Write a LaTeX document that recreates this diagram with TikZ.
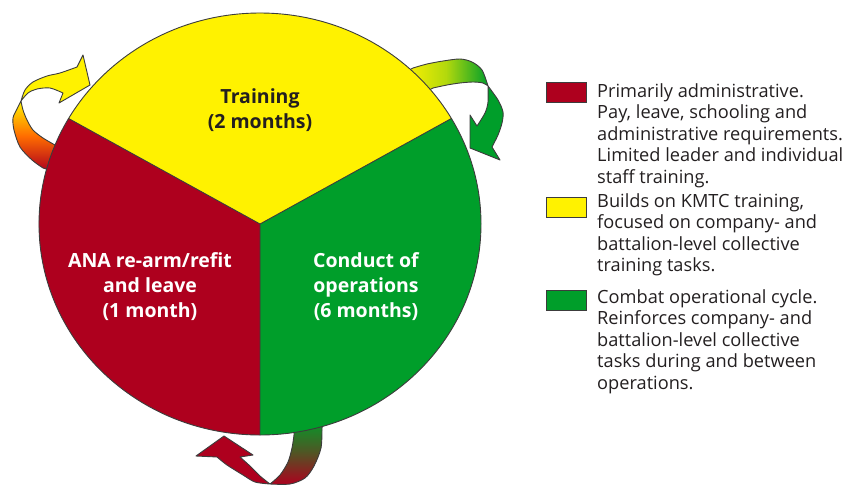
\documentclass[tikz,border=0pt]{standalone}
\usepackage{fontspec}
\setmainfont{Open Sans}
\definecolor{cred}{RGB}{174,0,30}
\definecolor{cyel}{RGB}{255,242,0}
\definecolor{cgrn}{RGB}{0,158,42}
\definecolor{cline}{RGB}{60,60,60}
\definecolor{ctext}{RGB}{35,31,32}
\begin{document}
\begin{tikzpicture}[x=1pt,y=-1pt,
  outl/.style={draw=cline, line width=0.9pt, line join=round},
  sector/.style={line width=0.9pt, draw=cline, line join=round},
  lab/.style={align=center, inner sep=0pt, font=\bfseries\fontsize{19.5}{25}\selectfont},
  legbox/.style={draw=cline, line width=0.8pt, minimum width=40pt, minimum height=20pt, inner sep=0pt},
  legtext/.style={align=left, inner sep=0pt, anchor=north west, text=ctext, font=\fontsize{18.2}{21.5}\selectfont}]
\useasboundingbox (0,0) rectangle (850,485);

% ---------- arrow 1 (red -> yellow, upper left)
\coordinate (t1) at (21,101);
\shade[bottom color=cred, top color=cyel, middle color=orange!85!red]
  (52,171) -- plot[smooth] coordinates {(43,168) (32,160) (20,147) (14,130) (13,118) (17,109) (t1)}
  -- plot[smooth] coordinates {(t1) (23,110) (27,120) (33,130) (43,138) (55,145)} -- (62,150) -- cycle;
\fill[cyel] (t1) -- plot[smooth] coordinates {(t1) (25,90) (33,82) (47,76) (60,73) (77,67)}
  -- (83,55) -- (90,85) -- (59,103) -- (63,93)
  -- plot[smooth] coordinates {(63,93) (50,88) (37,89) (28,93) (t1)} -- cycle;
\draw[outl] (52,171) -- plot[smooth] coordinates {(43,168) (32,160) (20,147) (14,130) (13,118) (17,109) (t1)}
  -- plot[smooth] coordinates {(t1) (25,90) (33,82) (47,76) (60,73) (77,67)}
  -- (83,55) -- (90,85) -- (59,103) -- (63,93)
  -- plot[smooth] coordinates {(63,93) (50,88) (37,89) (28,93) (t1)}
  -- plot[smooth] coordinates {(t1) (23,110) (27,120) (33,130) (43,138) (55,145)} -- (62,150);

% ---------- arrow 2 (yellow -> green, upper right)
\coordinate (t2) at (488,86);
\shade[left color=cyel, right color=cgrn, middle color=cyel!70!cgrn]
  (404,73) -- plot[smooth] coordinates {(413,68) (427,64) (443,61) (460,59) (472,62) (482,70) (t2)}
  -- plot[smooth] coordinates {(t2) (483,83) (473,82) (460,83) (447,85) (433,88)} -- (424,93) -- cycle;
\fill[cgrn] (t2) -- plot[smooth] coordinates {(t2) (498,100) (503,112) (502,123) (498,135) (492,147)}
  -- (500,160) -- (470,148) -- (470,115) -- (477,126)
  -- plot[smooth] coordinates {(477,126) (485,113) (488,102) (t2)} -- cycle;
\draw[outl] (404,73) -- plot[smooth] coordinates {(413,68) (427,64) (443,61) (460,59) (472,62) (482,70) (t2)}
  -- plot[smooth] coordinates {(t2) (498,100) (503,112) (502,123) (498,135) (492,147)}
  -- (500,160) -- (470,148) -- (470,115) -- (477,126)
  -- plot[smooth] coordinates {(477,126) (485,113) (488,102) (t2)}
  -- plot[smooth] coordinates {(t2) (483,83) (473,82) (460,83) (447,85) (433,88)} -- (424,93);

% ---------- arrow 3 (green -> red, bottom)
\coordinate (t3) at (270,484);
\shade[top color=cgrn, bottom color=cred, middle color=cgrn!55!cred]
  (324,418) -- plot[smooth] coordinates {(322,428) (321,448) (314,466) (305,478) (290,484) (t3)}
  -- plot[smooth] coordinates {(t3) (280,475) (288,462) (292,448) (294,435)} -- (294,424) -- cycle;
\fill[cred] (t3) -- plot[smooth] coordinates {(t3) (255,482) (243,475) (227,465) (217,457)}
  -- (196,456) -- (224,436) -- (253,455) -- (240,457)
  -- plot[smooth] coordinates {(240,457) (250,466) (260,476) (t3)} -- cycle;
\draw[outl] (324,418) -- plot[smooth] coordinates {(322,428) (321,448) (314,466) (305,478) (290,484) (t3)}
  -- plot[smooth] coordinates {(t3) (255,482) (243,475) (227,465) (217,457)}
  -- (196,456) -- (224,436) -- (253,455) -- (240,457)
  -- plot[smooth] coordinates {(240,457) (250,466) (260,476) (t3)}
  -- plot[smooth] coordinates {(t3) (280,475) (288,462) (292,448) (294,435)} -- (294,424);

% ---------- pie
\coordinate (c) at (260,224);
\coordinate (p30) at (451.4,118.5);
\coordinate (p150) at (68.6,118.5);
\coordinate (p270) at (260,435);
\fill[cyel] (c) -- (p30) arc[start angle=30, end angle=150, x radius=221pt, y radius=211pt] -- cycle;
\fill[cgrn] (c) -- (p270) arc[start angle=-90, end angle=30, x radius=221pt, y radius=211pt] -- cycle;
\fill[cred] (c) -- (p150) arc[start angle=150, end angle=270, x radius=221pt, y radius=211pt] -- cycle;
\draw[sector] (c) ellipse [x radius=221pt, y radius=211pt];
\draw[sector] (p150) -- (c) -- (p30) (c) -- (p270);

\node[lab, text=ctext] (ntrain) at (260,110) {Training\\(2 months)};
\node[lab, text=white] (nana) at (150,287) {ANA re-arm/refit\\and leave\\(1 month)};
\node[lab, text=white] (nops) at (366,287) {Conduct of\\operations\\(6 months)};

% ---------- legend
\node[legbox, fill=cred] (kred) at (566,92) {};
\node[legbox, fill=cyel] (kyel) at (566,207.5) {};
\node[legbox, fill=cgrn] (kgrn) at (566,300.5) {};
\node[legtext] (tred) at (597,83) {Primarily administrative.\\Pay, leave, schooling and\\administrative requirements.\\Limited leader and individual\\staff training.};
\node[legtext] (tyel) at (597,193) {Builds on KMTC training,\\focused on company- and\\battalion-level collective\\training tasks.};
\node[legtext] (tgrn) at (597,289) {Combat operational cycle.\\Reinforces company- and\\battalion-level collective\\tasks during and between\\operations.};
\end{tikzpicture}
\end{document}
